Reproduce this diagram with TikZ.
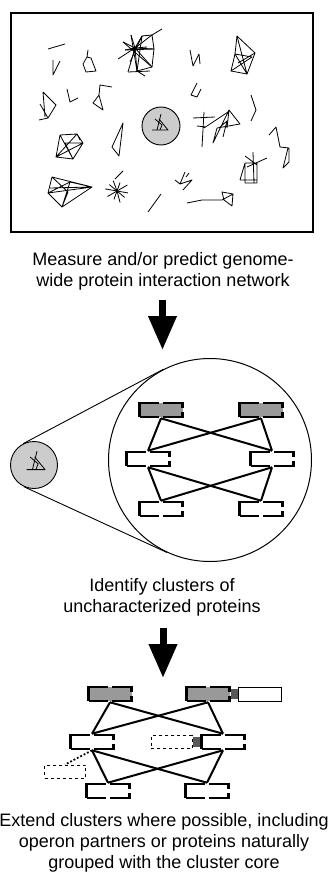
\documentclass[tikz,border=0pt]{standalone}
\usepackage{fontspec}
\setmainfont{Liberation Sans}
\usetikzlibrary{arrows.meta}
\tikzstyle{prot} = [draw, line width=2.6pt, dash pattern=on 52.5pt off 4.5pt on 24pt off 4.5pt on 24pt off 4.5pt, dash phase=33.25pt, minimum width=43pt, minimum height=14pt, inner sep=0pt]
\tikzstyle{core} = [prot, fill=black!40]
\tikzstyle{joint} = [fill=black!65, minimum width=7pt, minimum height=10pt, inner sep=0pt]
\tikzstyle{partner} = [draw, fill=white, line width=0.9pt, minimum width=43pt, minimum height=14pt, inner sep=0pt]
\tikzstyle{cand} = [draw, dashed, line width=0.8pt, minimum width=41pt, minimum height=13pt, inner sep=0pt]
\tikzstyle{spot} = [draw, circle, fill=black!20, line width=0.9pt, inner sep=0pt]
\tikzstyle{link} = [style={line width=2pt}]
\tikzstyle{net} = [style={line width=0.8pt, line join=round}]
\tikzstyle{caption} = [align=center, font=\fontsize{18}{21}\selectfont]
\tikzstyle{bigarrow} = [style={-{Triangle[width=27pt,length=34pt]}, line width=7pt}]
\newcommand{\clglyph}[2]{%
  \begin{scope}[shift={(#1)}, scale=#2]
    \draw[net] (-9,4) -- (7,4) -- (-2,-7);
    \draw[net] (-6,-7) -- (1,-1) -- (-1,4);
    \draw[net] (0,-12) -- (-4,4);
  \end{scope}}

\begin{document}
\begin{tikzpicture}[x=1pt,y=-1pt]
  \useasboundingbox (0,0) rectangle (328,880);

  % measured network
  \node[draw, line width=1.2pt, minimum width=302pt, minimum height=219pt, inner sep=0pt] (netbox) at (162,122.5) {};
  \draw[net] (48,49) -- (65,44);
  \draw[net] (53,60) -- (53,75) -- (60,61);
  \draw[net] (88,50) -- (87,57) -- (83,64) -- (86,72) -- (96,71) -- (91,58) -- (87,57);
  \draw[net] (135,48) -- (131,35) (135,48) -- (142,36) (135,48) -- (152,35) (135,48) -- (154,49)
    (135,48) -- (152,67) (135,48) -- (137,71) (135,48) -- (125,50) (135,48) -- (118,59)
    (135,48) -- (123,42) (135,48) -- (147,47) (135,48) -- (128,72);
  \draw[net] (142,36) -- (152,35) -- (154,49) -- (152,67) -- (137,71) -- cycle;
  \draw[net] (152,35) -- (162,29) (137,71) -- (145,76) (131,35) -- (137,71) (123,42) -- (152,67)
    (125,50) -- (154,49) (128,72) -- (150,71) (142,36) -- (130,62);
  \draw[net] (190,50) -- (193,66) -- (199,54) -- (200,64);
  \draw[net] (237,36) -- (255,53) -- (247,74) -- (231,71) -- (235,54) -- cycle;
  \draw[net] (237,36) -- (247,74) (235,54) -- (252,57) -- (231,71) (235,54) -- (247,74)
    (238,63) -- (255,53);
  \draw[net] (43,92) -- (56,105) -- (48,118) -- (39,120) (40,104) -- (48,118) (43,92) -- (45,117);
  \draw[net] (67,89) -- (70,102) -- (78,98);
  \draw[net] (112,87) -- (100,85) -- (99,95) -- (93,103) -- (103,110) -- (99,95);
  \draw[net] (197,83) -- (191,95) -- (197,97) -- (201,89);
  \draw[net] (251,95) -- (256,110) -- (251,121);
  \draw[net] (193,118) -- (215,117) (204,112) -- (202,147) (197,126) -- (206,127) (204,128) -- (228,112);
  \draw[net] (213,143) -- (229,110) -- (240,124) -- (217,128) -- cycle
    (220,127) -- (227,121) -- (223,137) (229,110) -- (227,128);
  \draw[net] (60,135) -- (77,134) -- (83,143) -- (73,159) -- (56,157) -- cycle
    (60,135) -- (73,159) (77,134) -- (56,157) (65,143) -- (83,143) (56,157) -- (83,143)
    (65,143) -- (73,159) (77,134) -- (80,140);
  \draw[net] (123,123) -- (112,147) -- (119,156) -- cycle;
  \draw[net] (269,135) -- (276,127) -- (280,147) -- (289,148) -- (289,162) -- (283,168) -- (288,148);
  \draw[net] (245,156) -- (257,165) (253,152) -- (254,183) (267,158) -- (247,167)
    (245,163) -- (257,163) -- (257,183) -- (245,183) -- cycle (240,180) -- (257,180) (245,163) -- (240,180);
  \draw[net] (175,180) -- (180,184) -- (185,172) (180,184) -- (192,180) -- (183,190) (186,177) -- (189,173);
  \draw[net] (52,177) -- (92,187) -- (62,207) -- (48,193) -- cycle
    (70,182) -- (92,187) (48,193) -- (92,187) (50,188) -- (92,187) (70,182) -- (62,207)
    (48,193) -- (70,182) (52,177) -- (68,192) (68,192) -- (62,207);
  \foreach \a/\r in {10/11,40/10,75/12,110/9,150/11,190/12,220/10,250/11,290/9,330/12}
    \draw[net] (117,191) -- ++(\a:\r);
  \draw[net] (115,179) -- (123,171);
  \draw[net] (148,212) -- (161,194);
  \draw[net] (187,203) -- (202,200) -- (222,200) -- (233,194) -- (232,206) -- (224,200) -- (222,192) -- (233,194);
  \node[spot, minimum size=38pt] (hit) at (161,126) {};
  \clglyph{161,126}{1}

  \node[caption] (cap1) at (163,271) {Measure and/or predict genome-\\wide protein interaction network};
  \coordinate (a1s) at (162.5,300);
  \coordinate (a1e) at (162.5,350);
  \draw[bigarrow] (a1s) -- (a1e);

  % zoomed cluster
  \node[spot, minimum size=47pt] (small) at (34,465) {};
  \clglyph{37,465}{1.15}
  \node[draw, circle, line width=1pt, minimum size=203pt, inner sep=0pt] (lens) at (210,460) {};
  \draw[line width=0.9pt] (small.117.7) -- (lens.117.7);
  \draw[line width=0.9pt] (small.245.5) -- (lens.245.5);
  \node[core] (ct1) at (161,410) {};
  \node[core] (ct2) at (261,410) {};
  \node[prot] (cm1) at (148,459) {};
  \node[prot] (cm2) at (272,459) {};
  \node[prot] (cb1) at (161,509) {};
  \node[prot] (cb2) at (261,509) {};
  \draw[link] (ct1.south) edge (cm1.north);
  \draw[link] (ct1.south) edge (cm2.north);
  \draw[link] (ct2.south) edge (cm1.north);
  \draw[link] (ct2.south) edge (cm2.north);
  \draw[link] (cm1.south) edge (cb1.north);
  \draw[link] (cm1.south) edge (cb2.north);
  \draw[link] (cm2.south) edge (cb1.north);
  \draw[link] (cm2.south) edge (cb2.north);

  \node[caption] (cap2) at (162,597) {Identify clusters of\\uncharacterized proteins};
  \coordinate (a2s) at (163,628);
  \coordinate (a2e) at (163,678);
  \draw[bigarrow] (a2s) -- (a2e);

  % extended cluster
  \node[core] (bt1) at (110,694) {};
  \node[core] (bt2) at (208,694) {};
  \node[prot] (bm1) at (92,742) {};
  \node[prot] (bm2) at (223,742) {};
  \node[prot] (bb1) at (108,791) {};
  \node[prot] (bb2) at (207,791) {};
  \node[joint, anchor=west] (j1) at (bt2.east) {};
  \node[partner, anchor=west] (p1) at (j1.east) {};
  \node[joint, anchor=east] (j2) at (bm2.west) {};
  \node[cand, anchor=east] (p2) at (j2.west) {};
  \node[cand] (p3) at (65,771.5) {};
  \draw[link] (bt1.south) edge (bm1.north);
  \draw[link] (bt1.south) edge (bm2.north);
  \draw[link] (bt2.south) edge (bm1.north);
  \draw[link] (bt2.south) edge (bm2.north);
  \draw[link] (bm1.south) edge (bb1.north);
  \draw[link] (bm1.south) edge (bb2.north);
  \draw[link] (bm2.south) edge (bb1.north);
  \draw[link] (bm2.south) edge (bb2.north);
  \draw[dotted, line width=1.8pt] (bm1.south) -- (p3.north);

  \node[caption] (cap3) at (164,843) {Extend clusters where possible, including\\operon partners or proteins naturally\\grouped with the cluster core};
\end{tikzpicture}
\end{document}
